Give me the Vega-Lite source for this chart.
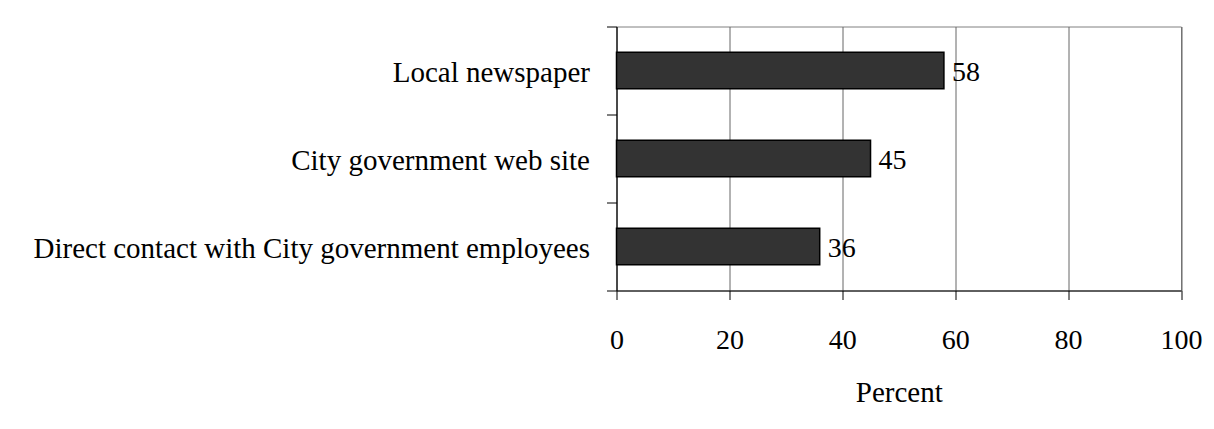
{
  "$schema": "https://vega.github.io/schema/vega-lite/v6.json",
  "width": 564.5,
  "height": 264,
  "autosize": "none",
  "padding": {"left": 616.5, "top": 26.5, "right": 33, "bottom": 138.5},
  "background": "white",
  "data": {
    "values": [
      {"source": "Local newspaper", "percent": 58},
      {"source": "City government web site", "percent": 45},
      {"source": "Direct contact with City government employees", "percent": 36}
    ]
  },
  "encoding": {
    "y": {
      "field": "source",
      "type": "nominal",
      "sort": null,
      "scale": {"paddingInner": 0, "paddingOuter": 0},
      "axis": {
        "title": null,
        "tickBand": "extent",
        "grid": false,
        "domainColor": "black",
        "tickColor": "black",
        "tickSize": 10,
        "labelPadding": 17,
        "labelOffset": 2,
        "labelFont": "Liberation Serif",
        "labelFontSize": 29,
        "labelColor": "black",
        "labelLimit": 0
      }
    },
    "x": {
      "field": "percent",
      "type": "quantitative",
      "scale": {"domain": [0, 100], "nice": false},
      "axis": {
        "values": [0, 20, 40, 60, 80, 100],
        "title": "Percent",
        "grid": true,
        "gridColor": "#666666",
        "gridWidth": 1,
        "domainColor": "black",
        "tickColor": "black",
        "tickSize": 9,
        "labelPadding": 27,
        "labelFont": "Liberation Serif",
        "labelFontSize": 28,
        "labelColor": "black",
        "labelFlush": false,
        "titleFont": "Liberation Serif",
        "titleFontSize": 29,
        "titleFontWeight": "normal",
        "titleColor": "black",
        "titlePadding": 24
      }
    }
  },
  "layer": [
    {
      "mark": {
        "type": "bar",
        "fill": "#333333",
        "stroke": "black",
        "strokeWidth": 1.5,
        "height": {"band": 0.417}
      }
    },
    {
      "mark": {
        "type": "text",
        "align": "left",
        "baseline": "middle",
        "dx": 8,
        "dy": 2,
        "font": "Liberation Serif",
        "fontSize": 28,
        "color": "black"
      },
      "encoding": {"text": {"field": "percent", "type": "quantitative"}}
    }
  ],
  "config": {
    "view": {"stroke": "#808080", "strokeWidth": 1}
  }
}
